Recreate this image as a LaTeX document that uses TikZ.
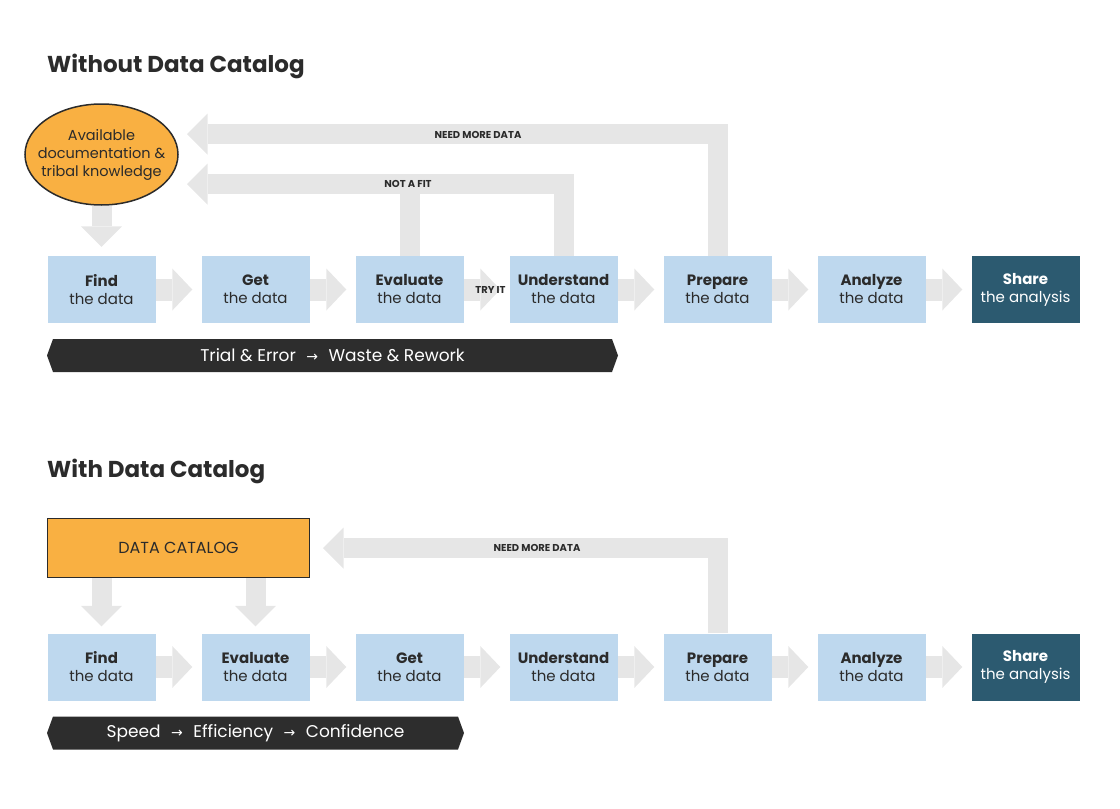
\documentclass[tikz,border=0pt]{standalone}
\usepackage{fontspec}
\setmainfont{Poppins}
\newfontfamily\arrowfont{DejaVu Sans}
\usetikzlibrary{arrows.meta,shapes.geometric,shapes.symbols,backgrounds}
\definecolor{boxblue}{HTML}{BED8EE}
\definecolor{flowgray}{HTML}{E6E6E6}
\definecolor{catorange}{HTML}{F9B042}
\definecolor{shareteal}{HTML}{2C5A70}
\definecolor{bannerdark}{HTML}{2D2D2D}
\definecolor{inkdark}{HTML}{2B2B2B}
\newcommand{\flowarrow}{\hspace{0.35em}{\arrowfont\fontsize{14}{14}\selectfont →}\hspace{0.35em}}
\begin{document}
\begin{tikzpicture}[x=1pt,y=-1pt,
  stepbox/.style={rectangle,fill=boxblue,minimum width=108pt,minimum height=67pt,inner sep=0pt,align=center,text=inkdark,font=\fontsize{15}{18}\selectfont},
  endbox/.style={stepbox,fill=shareteal,text=white},
  sectitle/.style={anchor=base west,inner sep=0pt,text=inkdark,font=\bfseries\fontsize{23}{28}\selectfont},
  flow/.style={flowgray,line width=22pt,-{Triangle[width=42pt,length=20pt,line width=0pt]}},
  fbarrow/.style={flowgray,line width=20pt,-{Triangle[width=41pt,length=20.5pt,line width=0pt]}},
  fblbl/.style={text=inkdark,font=\bfseries\fontsize{10}{12}\selectfont,inner sep=1pt},
  banner/.style={signal,signal to=west and east,signal pointer angle=140,fill=bannerdark,text=white,minimum height=33pt,inner sep=0pt,font=\fontsize{17}{20}\selectfont}]
\useasboundingbox (0,0) rectangle (1120,809);
\node[sectitle] (t1) at (47,72) {Without Data Catalog};
\node[ellipse,draw=inkdark,line width=1.5pt,fill=catorange,minimum width=153pt,minimum height=101pt,inner sep=0pt] (info) at (101.5,154.5) {};
\node[align=center,text=inkdark,font=\fontsize{14.5}{18}\selectfont] (infotext) at (info.center) {Available\\documentation \&\\tribal knowledge};
\foreach \x/\n/\hd/\tl/\st in %
{0/f1/Find/the data/stepbox,1/g1/Get/the data/stepbox,2/e1/Evaluate/the data/stepbox,3/u1/Understand/the data/stepbox,4/p1/Prepare/the data/stepbox,5/a1/Analyze/the data/stepbox,6/s1/Share/the analysis/endbox} {
   \node[\st] (\n) at (101.5+154*\x,289.5) {\textbf{\hd}\\\tl};
}
\node[banner,minimum width=571pt] (ban1) at (332.5,355.5) {Trial \& Error \flowarrow{} Waste \& Rework};
\coordinate (needtip1) at (187,134);
\coordinate (fittip1) at (187,184);
\begin{scope}[on background layer]
\foreach \p/\q in %
{f1/g1,g1/e1,u1/p1,p1/a1,a1/s1} {
   \draw[flow,shorten >=9pt] (\p.east) -- (\q.west);
}
\draw[flow,shorten >=9pt] (e1.east) -- node[fblbl,xshift=4pt] (ltry) {TRY IT} (u1.west);
\draw[fbarrow,shorten >=9pt] (info.south) -- (f1.north);
\draw[fbarrow] (p1.north) |- (needtip1);
\draw[fbarrow] (u1.north) |- (fittip1);
\draw[flowgray,line width=20pt] (e1.north) -- (e1.north |- fittip1);
\end{scope}
\node[fblbl] (lneed1) at (478,135) {NEED MORE DATA};
\node[fblbl] (lfit1) at (408,184) {NOT A FIT};
\node[sectitle] (t2) at (47,477) {With Data Catalog};
\node[rectangle,draw=inkdark,line width=1.8pt,fill=catorange,minimum width=262pt,minimum height=59pt,text=inkdark,font=\fontsize{16}{18}\selectfont] (cat) at (178.5,548) {DATA CATALOG};
\foreach \x/\n/\hd/\tl/\st in %
{0/f2/Find/the data/stepbox,1/e2/Evaluate/the data/stepbox,2/g2/Get/the data/stepbox,3/u2/Understand/the data/stepbox,4/p2/Prepare/the data/stepbox,5/a2/Analyze/the data/stepbox,6/s2/Share/the analysis/endbox} {
   \node[\st] (\n) at (101.5+154*\x,667) {\textbf{\hd}\\\tl};
}
\node[banner,minimum width=417pt] (ban2) at (255.5,733) {Speed \flowarrow{} Efficiency \flowarrow{} Confidence};
\coordinate (needtip2) at (323,548);
\begin{scope}[on background layer]
\foreach \p/\q in %
{f2/e2,e2/g2,g2/u2,u2/p2,p2/a2,a2/s2} {
   \draw[flow,shorten >=9pt] (\p.east) -- (\q.west);
}
\draw[fbarrow,shorten >=7pt] (cat.south -| f2.north) -- (f2.north);
\draw[fbarrow,shorten >=7pt] (cat.south -| e2.north) -- (e2.north);
\draw[fbarrow] (p2.north) |- (needtip2);
\end{scope}
\node[fblbl] (lneed2) at (537,548) {NEED MORE DATA};
\end{tikzpicture}
\end{document}
